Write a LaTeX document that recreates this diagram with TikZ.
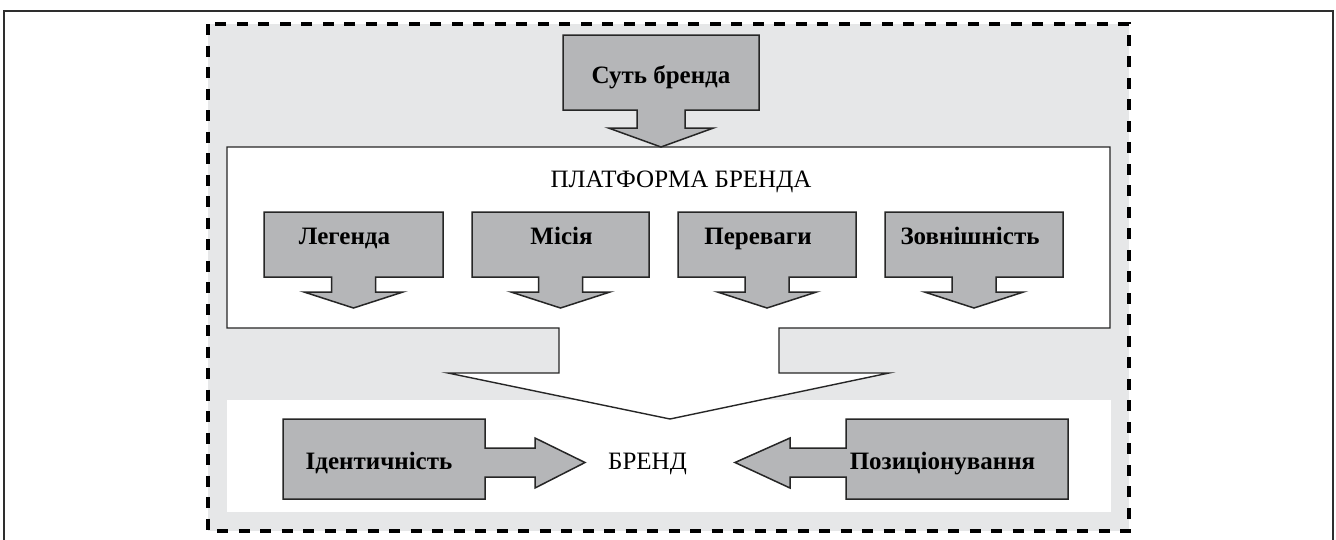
\documentclass[tikz,border=0pt]{standalone}
\usepackage{fontspec}
\setmainfont{Liberation Serif}
\definecolor{zonegray}{HTML}{E6E7E8}
\definecolor{blockgray}{HTML}{B5B6B8}
\definecolor{framegray}{HTML}{2E2E2E}

% Box with a downward block arrow under it, drawn as one outline.
% #1 left, #2 top, #3 width, #4 height, #5 shaft half width,
% #6 head half width, #7 shaft length, #8 head length
\newcommand\DownBlock[8]{%
  \pgfmathsetmacro\bcx{#1+#3/2}%
  \pgfmathsetmacro\bby{#2+#4}%
  \pgfmathsetmacro\bsy{#2+#4+#7}%
  \pgfmathsetmacro\bty{#2+#4+#7+#8}%
  \draw[block] (#1,#2) -- ++(#3,0) -- ++(0,#4)
    -- (\bcx+#5,\bby) -- (\bcx+#5,\bsy) -- (\bcx+#6,\bsy)
    -- (\bcx,\bty)
    -- (\bcx-#6,\bsy) -- (\bcx-#5,\bsy) -- (\bcx-#5,\bby)
    -- (#1,\bby) -- cycle;}

\begin{document}
\begin{tikzpicture}[x=1pt,y=-1pt,
  frame/.style={draw=framegray,line width=2.2pt},
  zone/.style={draw=black,fill=zonegray,line width=3.3pt,dash pattern=on 11pt off 10.5pt},
  platform/.style={draw=black!85,fill=white,line width=1.4pt,line join=miter},
  block/.style={draw=black!85,fill=blockgray,line width=1.5pt,line join=miter},
  lbl/.style={anchor=base,inner sep=0pt,font=\fontsize{25}{30}\selectfont\bfseries},
  plain/.style={anchor=base,inner sep=0pt,font=\fontsize{25}{30}\selectfont}]
\useasboundingbox (0,0) rectangle (1336,539);
\clip (0,0) rectangle (1336,539);
\fill[white] (0,0) rectangle (1336,539);

% outer frame (its lower edge lies below the page)
\draw[frame] (4,560) -- (4,11) -- (1333,11) -- (1333,560);

% dashed grey zone
\draw[zone] (208,24) rectangle (1129,531);

% white band for the brand row
\fill[white] (227,400) rectangle (1111,512);

% brand platform with its funnel arrow
\draw[platform] (227,147) -- (1110,147) -- (1110,328) -- (779,328) -- (779,373)
  -- (889,373) -- (670,419) -- (448,373) -- (559,373) -- (559,328) -- (227,328) -- cycle;

% essence block
\DownBlock{563}{35}{196}{75}{24}{52.5}{18}{19}
\node[lbl] (sut) at (661,83.5) {Суть бренда};

% platform title
\node[plain] (platf) at (681,187) {ПЛАТФОРМА БРЕНДА};

% four platform components
\DownBlock{264}{212}{179}{65}{22}{49.5}{15}{16}
\DownBlock{472}{212}{177}{65}{22}{49.5}{15}{16}
\DownBlock{678}{212}{178}{65}{22}{49.5}{15}{16}
\DownBlock{885}{212}{178}{65}{22}{49.5}{15}{16}
\node[lbl] (leg) at (344.5,244) {Легенда};
\node[lbl] (mis) at (561.5,244) {Місія};
\node[lbl] (per) at (758,244) {Переваги};
\node[lbl] (zov) at (970,244) {Зовнішність};

% brand row
\node[plain] (brend) at (647.5,469) {БРЕНД};

\draw[block] (283,419) -- (485,419) -- (485,448) -- (535,448) -- (535,438)
  -- (585,462.5) -- (535,488) -- (535,477) -- (485,477) -- (485,499) -- (283,499) -- cycle;
\node[lbl] (ident) at (379,469) {Ідентичність};

\draw[block] (1068,419) -- (846,419) -- (846,448) -- (790,448) -- (790,438)
  -- (735,462.5) -- (790,488) -- (790,477) -- (846,477) -- (846,499) -- (1068,499) -- cycle;
\node[lbl] (pozit) at (942.5,469) {Позиціонування};
\end{tikzpicture}
\end{document}
